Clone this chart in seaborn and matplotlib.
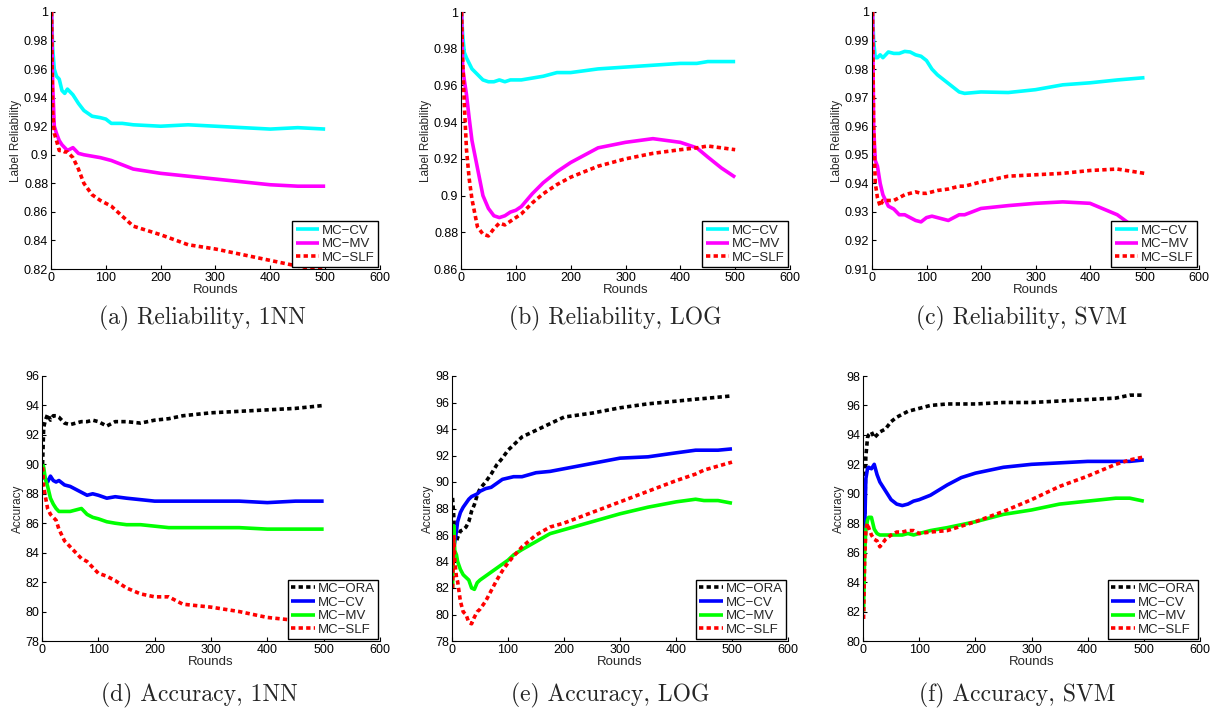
import numpy as np
import pandas as pd
import matplotlib
matplotlib.use("Agg")
import matplotlib.pyplot as plt
import seaborn as sns

# ---------------- data ----------------
# (a) Reliability, 1NN
a_x = [1, 3, 6, 10, 15, 20, 25, 30, 40, 50, 60, 75, 90, 100, 110, 130, 150, 200, 250, 300, 350, 400, 450, 500]
a_cv = [1.0, 0.975, 0.96, 0.955, 0.953, 0.945, 0.943, 0.946, 0.942, 0.936, 0.931, 0.927, 0.926, 0.925, 0.922,
        0.922, 0.921, 0.920, 0.921, 0.920, 0.919, 0.918, 0.919, 0.918]
a_mv = [1.0, 0.95, 0.92, 0.915, 0.91, 0.907, 0.905, 0.903, 0.905, 0.901, 0.900, 0.899, 0.898, 0.897, 0.896,
        0.893, 0.890, 0.887, 0.885, 0.883, 0.881, 0.879, 0.878, 0.878]
a_slf = [1.0, 0.93, 0.915, 0.91, 0.903, 0.903, 0.902, 0.902, 0.898, 0.89, 0.88, 0.872, 0.868, 0.866, 0.864,
         0.857, 0.850, 0.844, 0.837, 0.834, 0.830, 0.826, 0.822, 0.819]

# (b) Reliability, LOG
b_x = [1, 3, 6, 10, 15, 20, 30, 40, 50, 60, 70, 80, 90, 100, 110, 130, 150, 175, 200, 250, 300, 350, 400, 430, 450, 475, 500]
b_cv = [1.0, 0.988, 0.978, 0.975, 0.972, 0.969, 0.966, 0.963, 0.962, 0.962, 0.963, 0.962, 0.963, 0.963, 0.963,
        0.964, 0.965, 0.967, 0.967, 0.969, 0.970, 0.971, 0.972, 0.972, 0.973, 0.973, 0.973]
b_mv = [1.0, 0.97, 0.963, 0.955, 0.942, 0.93, 0.915, 0.90, 0.893, 0.889, 0.888, 0.889, 0.891, 0.892, 0.894,
        0.901, 0.907, 0.913, 0.918, 0.926, 0.929, 0.931, 0.929, 0.926, 0.921, 0.915, 0.910]
b_slf = [1.0, 0.975, 0.95, 0.925, 0.909, 0.898, 0.883, 0.879, 0.878, 0.882, 0.885, 0.884, 0.886, 0.888, 0.890,
         0.896, 0.901, 0.906, 0.910, 0.916, 0.920, 0.923, 0.925, 0.926, 0.927, 0.926, 0.925]

# (c) Reliability, SVM
c_x = [1, 3, 6, 10, 15, 20, 30, 40, 50, 60, 70, 80, 90, 100, 110, 120, 140, 160, 170, 200, 250, 300, 350, 400, 450, 500]
c_cv = [1.0, 0.99, 0.984, 0.984, 0.985, 0.984, 0.986, 0.9855, 0.9855, 0.9862, 0.986, 0.985, 0.9845, 0.983, 0.980,
        0.978, 0.975, 0.972, 0.9715, 0.972, 0.9718, 0.9728, 0.9745, 0.9752, 0.9762, 0.977]
c_mv = [1.0, 0.96, 0.948, 0.946, 0.94, 0.936, 0.932, 0.931, 0.929, 0.929, 0.928, 0.927, 0.9265, 0.928, 0.9285,
        0.928, 0.927, 0.929, 0.929, 0.9312, 0.9322, 0.933, 0.9335, 0.933, 0.929, 0.922]
c_slf = [1.0, 0.96, 0.94, 0.935, 0.932, 0.934, 0.934, 0.934, 0.935, 0.936, 0.9365, 0.937, 0.9365, 0.9365, 0.937,
         0.9375, 0.938, 0.939, 0.939, 0.9405, 0.9425, 0.943, 0.9435, 0.9445, 0.945, 0.9435]

# (d) Accuracy, 1NN
d_x = [1, 3, 6, 10, 15, 20, 25, 30, 40, 50, 60, 70, 80, 90, 100, 115, 130, 150, 175, 200, 225, 250, 300, 350, 400, 450, 500]
d_ora = [90.0, 92.5, 93.0, 93.4, 93.0, 93.3, 93.3, 93.2, 92.8, 92.7, 92.8, 92.9, 92.9, 93.0, 92.9, 92.6, 92.9,
         92.9, 92.8, 93.0, 93.1, 93.3, 93.5, 93.6, 93.7, 93.8, 94.0]
d_cv = [89.0, 89.3, 89.0, 88.8, 89.2, 88.9, 88.8, 88.9, 88.6, 88.5, 88.3, 88.1, 87.9, 88.0, 87.9, 87.7, 87.8,
        87.7, 87.6, 87.5, 87.5, 87.5, 87.5, 87.5, 87.4, 87.5, 87.5]
d_mv = [90.0, 89.8, 89.0, 88.5, 87.7, 87.3, 87.0, 86.8, 86.8, 86.8, 86.9, 87.0, 86.6, 86.4, 86.3, 86.1, 86.0,
        85.9, 85.9, 85.8, 85.7, 85.7, 85.7, 85.7, 85.6, 85.6, 85.6]
d_slf = [89.8, 88.5, 87.8, 87.0, 86.6, 86.4, 86.2, 85.6, 84.8, 84.4, 84.0, 83.6, 83.4, 83.0, 82.6, 82.4, 82.1,
         81.6, 81.2, 81.0, 81.0, 80.5, 80.3, 80.0, 79.6, 79.4, 79.1]

# (e) Accuracy, LOG
e_x = [1, 3, 5, 8, 10, 15, 20, 25, 30, 35, 40, 45, 50, 60, 70, 80, 90, 100, 110, 125, 150, 175, 200, 250, 300,
       350, 400, 435, 450, 475, 500]
e_ora = [88.8, 87.5, 86.0, 85.5, 85.8, 86.3, 86.4, 86.6, 87.0, 87.8, 88.3, 89.0, 89.5, 90.0, 90.6, 91.3, 91.8,
         92.4, 92.8, 93.4, 93.9, 94.4, 94.9, 95.2, 95.6, 95.9, 96.1, 96.25, 96.3, 96.4, 96.5]
e_cv = [86.0, 85.0, 85.5, 86.3, 87.0, 87.7, 88.1, 88.4, 88.7, 88.9, 89.0, 89.1, 89.3, 89.5, 89.6, 89.9, 90.2,
        90.3, 90.4, 90.4, 90.7, 90.8, 91.0, 91.4, 91.8, 91.9, 92.2, 92.4, 92.4, 92.4, 92.5]
e_mv = [82.0, 86.7, 84.8, 84.5, 84.0, 83.4, 83.0, 82.8, 82.6, 82.0, 81.9, 82.4, 82.6, 82.9, 83.2, 83.5, 83.8,
        84.1, 84.5, 84.9, 85.5, 86.1, 86.4, 87.0, 87.6, 88.1, 88.5, 88.7, 88.6, 88.6, 88.4]
e_slf = [82.0, 86.0, 84.0, 82.8, 82.5, 81.0, 80.2, 80.0, 79.4, 79.3, 79.8, 80.2, 80.4, 81.0, 81.8, 82.6, 83.3,
         83.9, 84.4, 85.1, 86.0, 86.6, 86.9, 87.7, 88.5, 89.3, 90.1, 90.6, 90.9, 91.2, 91.5]

# (f) Accuracy, SVM
f_x = [1, 3, 5, 8, 10, 15, 20, 25, 30, 40, 50, 60, 70, 80, 90, 100, 120, 150, 175, 200, 250, 300, 350, 400, 450, 475, 500]
f_ora = [84.0, 88.0, 92.5, 93.8, 94.0, 94.2, 93.8, 94.0, 94.2, 94.4, 94.9, 95.2, 95.4, 95.6, 95.7, 95.8, 96.0,
         96.1, 96.1, 96.1, 96.2, 96.2, 96.3, 96.4, 96.5, 96.7, 96.7]
f_cv = [87.0, 87.5, 91.0, 91.7, 91.8, 91.7, 92.0, 91.3, 90.8, 90.2, 89.6, 89.3, 89.2, 89.3, 89.5, 89.6, 89.9,
        90.6, 91.1, 91.4, 91.8, 92.0, 92.1, 92.2, 92.2, 92.2, 92.3]
f_mv = [82.0, 86.0, 87.5, 88.2, 88.4, 88.4, 87.6, 87.3, 87.2, 87.2, 87.2, 87.2, 87.2, 87.3, 87.2, 87.3, 87.5,
        87.7, 87.9, 88.1, 88.6, 88.9, 89.3, 89.5, 89.7, 89.7, 89.5]
f_slf = [81.5, 85.5, 87.5, 88.0, 87.7, 87.2, 86.9, 86.8, 86.4, 86.9, 87.2, 87.4, 87.4, 87.5, 87.5, 87.3, 87.4,
         87.5, 87.8, 88.1, 88.8, 89.6, 90.5, 91.2, 92.0, 92.3, 92.5]

captions = ["(a) Reliability, 1NN", "(b) Reliability, LOG", "(c) Reliability, SVM",
            "(d) Accuracy, 1NN", "(e) Accuracy, LOG", "(f) Accuracy, SVM"]
x_ticks = [0, 100, 200, 300, 400, 500, 600]
a_yticks = [0.82, 0.84, 0.86, 0.88, 0.9, 0.92, 0.94, 0.96, 0.98, 1]
b_yticks = [0.86, 0.88, 0.9, 0.92, 0.94, 0.96, 0.98, 1]
c_yticks = [0.91, 0.92, 0.93, 0.94, 0.95, 0.96, 0.97, 0.98, 0.99, 1]
d_yticks = [78, 80, 82, 84, 86, 88, 90, 92, 94, 96]
e_yticks = [78, 80, 82, 84, 86, 88, 90, 92, 94, 96, 98]
f_yticks = [80, 82, 84, 86, 88, 90, 92, 94, 96, 98]

# ---------------- style ----------------
sns.set_theme(style="white")
plt.rcParams["font.family"] = ["Liberation Sans", "DejaVu Sans"]
plt.rcParams["axes.unicode_minus"] = True

W, H = 1212, 710
fig = plt.figure(figsize=(W / 100, H / 100), dpi=100)
fig.patch.set_facecolor("white")

def px_axes(l, r, t, b):
    return fig.add_axes([l / W, 1 - b / H, (r - l) / W, (b - t) / H])

DOT = (0, (1.2, 0.9))
LW = 2.6
styles = {
    "MC\u2212ORA": dict(color="black", linestyle=DOT),
    "MC\u2212CV_top": dict(color=(0, 1, 1), linestyle="-"),
    "MC\u2212MV_top": dict(color=(1, 0, 1), linestyle="-"),
    "MC\u2212CV": dict(color=(0, 0, 1), linestyle="-"),
    "MC\u2212MV": dict(color=(0, 1, 0), linestyle="-"),
    "MC\u2212SLF": dict(color=(1, 0, 0), linestyle=DOT),
}

panels = [
    dict(box=(51, 380, 12, 269), x=a_x, series=[("MC\u2212CV_top", a_cv), ("MC\u2212MV_top", a_mv), ("MC\u2212SLF", a_slf)],
         ylim=(0.82, 1), yticks=a_yticks, ylabel="Label Reliability", cap=(202, 318)),
    dict(box=(461, 790, 12, 269), x=b_x, series=[("MC\u2212CV_top", b_cv), ("MC\u2212MV_top", b_mv), ("MC\u2212SLF", b_slf)],
         ylim=(0.86, 1), yticks=b_yticks, ylabel="Label Reliability", cap=(615, 318)),
    dict(box=(872, 1199, 12, 269), x=c_x, series=[("MC\u2212CV_top", c_cv), ("MC\u2212MV_top", c_mv), ("MC\u2212SLF", c_slf)],
         ylim=(0.91, 1), yticks=c_yticks, ylabel="Label Reliability", cap=(1022, 318)),
    dict(box=(42, 380, 376, 641), x=d_x, series=[("MC\u2212ORA", d_ora), ("MC\u2212CV", d_cv), ("MC\u2212MV", d_mv), ("MC\u2212SLF", d_slf)],
         ylim=(78, 96), yticks=d_yticks, ylabel="Accuracy", cap=(199, 695)),
    dict(box=(452, 788, 376, 641), x=e_x, series=[("MC\u2212ORA", e_ora), ("MC\u2212CV", e_cv), ("MC\u2212MV", e_mv), ("MC\u2212SLF", e_slf)],
         ylim=(78, 98), yticks=e_yticks, ylabel="Accuracy", cap=(610, 695)),
    dict(box=(863, 1200, 376, 641), x=f_x, series=[("MC\u2212ORA", f_ora), ("MC\u2212CV", f_cv), ("MC\u2212MV", f_mv), ("MC\u2212SLF", f_slf)],
         ylim=(80, 98), yticks=f_yticks, ylabel="Accuracy", cap=(1017, 695)),
]

for i, p in enumerate(panels):
    ax = px_axes(*p["box"])
    ax.set_facecolor("white")
    for key, vals in p["series"]:
        label = key.replace("_top", "")
        df = pd.DataFrame({"x": p["x"], "y": vals})
        sns.lineplot(data=df, x="x", y="y", ax=ax, estimator=None, lw=LW,
                     label=label, solid_capstyle="butt", dash_capstyle="butt",
                     **styles[key])
    ax.set_xlim(0, 600)
    ax.set_ylim(*p["ylim"])
    ax.set_xticks(x_ticks)
    ax.set_yticks(p["yticks"])
    ax.set_yticklabels([("%g" % v) for v in p["yticks"]])
    ax.set_xlabel("Rounds", fontsize=9.5, labelpad=0)
    ax.set_ylabel(p["ylabel"], fontsize=8.5, labelpad=1)
    ax.tick_params(axis="both", direction="in", length=3, width=0.8, labelsize=9,
                   pad=2, colors="black", bottom=True, left=True)
    for s in ["top", "right"]:
        ax.spines[s].set_visible(False)
    for s in ["left", "bottom"]:
        ax.spines[s].set_color("black")
        ax.spines[s].set_linewidth(0.8)
    leg = ax.legend(loc="lower right", fontsize=9.5, frameon=True, fancybox=False,
                    borderaxespad=0.15, handlelength=1.8, handletextpad=0.2,
                    borderpad=0.25, labelspacing=0.1)
    leg.get_frame().set_edgecolor("black")
    leg.get_frame().set_linewidth(1.0)
    leg.get_frame().set_alpha(1)
    fig.text(p["cap"][0] / W, 1 - p["cap"][1] / H, captions[i], ha="center", va="center",
             fontsize=17, family=["cmr10", "DejaVu Serif"])

fig.savefig("out.png", dpi=100, facecolor="white")
